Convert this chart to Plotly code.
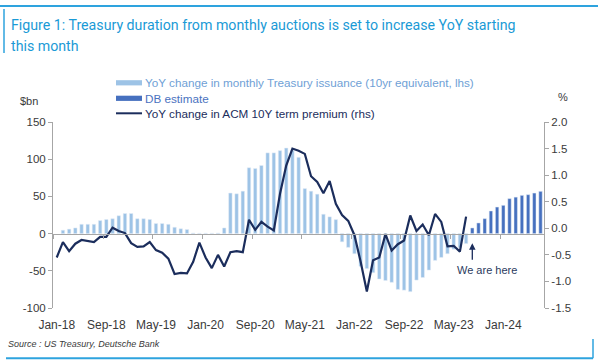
import pandas as pd
import plotly.graph_objects as go

# ---------------- data ----------------
months = list(pd.date_range("2018-01-01", periods=79, freq="MS").strftime("%b-%y"))

# YoY change in monthly Treasury issuance (10yr equivalent, $bn) - Feb-18 .. Jul-23
issuance = [None,
            4.5, 6, 7.6, 12.5, 12.5, 12.5, 17.5, 19, 20, 24, 27, 27,
            20, 20, 19, 13.5, 13.5, 12.5, 8.5, 6.5, 5.5, 0.8, 0.5, 0.5,
            0.5, 0.8, 7.6, 54.5, 53.5, 57, 88.5, 87.5, 91.5, 108.5, 108.5, 111.5,
            115, 112, 102.5, 60.5, 57, 53, 26, 22.5, 18.8, -11, -18.5, -27,
            -44, -47, -52.5, -61, -63, -65.5, -75, -76, -78, -62.5, -59, -49,
            -36, -32, -27, -21, -19, -13.4]
# DB estimate ($bn) - Aug-23 .. Jul-24
db_estimate = [7.6, 14.3, 20.1, 30.4, 35.7, 38, 47, 49, 51.4, 52.3, 54.5, 56.8]
# YoY change in ACM 10Y term premium (%) - Jan-18 .. Jul-23
term_premium = [-0.55, -0.26, -0.43, -0.29, -0.22, -0.24, -0.26, -0.16, -0.16, 0.01, -0.05, -0.09,
                -0.28, -0.35, -0.34, -0.26, -0.41, -0.46, -0.57, -0.86, -0.84, -0.85, -0.63, -0.27,
                -0.55, -0.75, -0.50, -0.72, -0.45, -0.43, -0.45, 0.16, -0.03, 0.12, 0.03, -0.04,
                0.65, 1.18, 1.50, 1.46, 1.40, 0.98, 0.87, 0.66, 0.89, 0.46, 0.25, 0.14,
                -0.13, -0.63, -1.19, -0.60, -0.55, -0.11, -0.42, -0.30, -0.23, 0.24, -0.05, 0.07,
                -0.13, 0.27, 0.12, -0.34, -0.33, -0.44, 0.22]

left_ticks = [-100, -50, 0, 50, 100, 150]
left_ticktext = ["-100", "-50", "0", "50", "100", "150"]
right_ticks = [-1.5, -1.0, -0.5, 0.0, 0.5, 1.0, 1.5, 2.0]
right_ticktext = ["-1.5", "-1.0", "-0.5", "0.0", "0.5", "1.0", "1.5", "2.0"]

n_hist = len(issuance)
light_y = issuance + [None] * (len(months) - n_hist)
dark_y = [None] * (len(months) - len(db_estimate)) + db_estimate
line_y = term_premium + [None] * (len(months) - len(term_premium))

# ---------------- style ----------------
W, H = 598, 364
L, R, T, B = 53, 54, 122, 56
PW, PH = W - L - R, H - T - B

def px(x):
    return (x - L) / PW

def py(y):
    return (H - B - y) / PH

LIGHT = "#9dc3e6"
DARK = "#4670bf"
NAVY = "#1b2d5c"
FRAME = "#2ea3de"
AXIS = "#a6a6a6"
TXT = "#3a3a3a"
FONT = "Liberation Sans, Arial, sans-serif"

fig = go.Figure()
fig.add_trace(go.Bar(x=months, y=light_y, marker_color=LIGHT, width=0.55,
                     name="YoY change in monthly Treasury issuance (10yr equivalent, lhs)"))
fig.add_trace(go.Bar(x=months, y=dark_y, marker_color=DARK, width=0.55, name="DB estimate"))
fig.add_trace(go.Scatter(x=months, y=line_y, mode="lines", xaxis="x2", yaxis="y2",
                         line=dict(color=NAVY, width=2.2),
                         name="YoY change in ACM 10Y term premium (rhs)"))

xr = [-0.6, 78.56]
fig.update_layout(
    width=W, height=H, margin=dict(l=L, r=R, t=T, b=B, pad=0),
    paper_bgcolor="white", plot_bgcolor="white",
    barmode="overlay", showlegend=False,
    font=dict(family=FONT, size=11.5, color=TXT),
    xaxis=dict(type="category", range=xr, showline=False, ticks="", showgrid=False,
               tickmode="linear", tick0=0, dtick=8, ticklabelstandoff=8,
               tickfont=dict(size=12, color=TXT)),
    xaxis2=dict(type="category", range=xr, overlaying="x", matches="x", anchor="free",
                position=0.4, side="bottom", showline=True, linecolor=AXIS, linewidth=1,
                ticks="outside", ticklen=4, tickcolor=AXIS, tickson="boundaries",
                tickmode="linear", tick0=0, dtick=8, showticklabels=False, showgrid=False),
    yaxis=dict(range=[-100, 150], tickvals=left_ticks, ticktext=left_ticktext,
               showline=True, linecolor=AXIS, ticks="outside", ticklen=4, tickcolor=AXIS,
               showgrid=False, zeroline=False, tickfont=dict(size=11.5, color=TXT)),
    yaxis2=dict(range=[-1.5, 2.0], tickvals=right_ticks, ticktext=right_ticktext,
                overlaying="y", side="right", anchor="x",
                showline=True, linecolor=AXIS, ticks="outside", ticklen=4, tickcolor=AXIS,
                showgrid=False, zeroline=False, tickfont=dict(size=11.5, color=TXT)),
)

ann = []
def text(x, y, s, size, color, xanchor="left", family=FONT):
    ann.append(dict(xref="paper", yref="paper", x=px(x), y=py(y), text=s, showarrow=False,
                    xanchor=xanchor, yanchor="middle",
                    font=dict(size=size, color=color, family=family)))

# title
text(9, 25, "Figure 1: Treasury duration from monthly auctions is set to increase YoY starting",
     14.2, "#1a9ad6", family="Roboto, sans-serif")
text(9, 46, "this month", 14.2, "#1a9ad6", family="Roboto, sans-serif")
# legend
text(143, 82.7, "YoY change in monthly Treasury issuance (10yr equivalent, lhs)", 11.7, "#6f9fd6")
text(143, 98.3, "DB estimate", 11.7, "#4a72c0")
text(143, 113.3, "YoY change in ACM 10Y term premium (rhs)", 11.7, NAVY)
# axis titles
text(18, 100.7, "$bn", 11, TXT)
text(563, 96.7, "%", 11, TXT, xanchor="center")
# note
text(486.5, 270, "We are here", 11, "#2a3a5e", xanchor="center")
# source
text(6, 344, "<i>Source : US Treasury, Deutsche Bank</i>", 9, TXT)

# arrow
ann.append(dict(xref="x", yref="y", x="Aug-23", y=-13, ax=0, ay=18, text="",
                showarrow=True, arrowhead=2, arrowsize=1, arrowwidth=1.3, arrowcolor=NAVY))
fig.update_layout(annotations=ann)

shapes = []
def seg(x0, y0, x1, y1, color, w):
    shapes.append(dict(type="line", xref="paper", yref="paper", x0=px(x0), y0=py(y0),
                       x1=px(x1), y1=py(y1), line=dict(color=color, width=w)))

def rect(x0, y0, x1, y1, color):
    shapes.append(dict(type="rect", xref="paper", yref="paper", x0=px(x0), y0=py(y0),
                       x1=px(x1), y1=py(y1), fillcolor=color, line=dict(width=0)))

# frame
seg(0, 6, 598, 6, FRAME, 2)
seg(4, 9, 4, 53, FRAME, 1.5)
seg(6, 358.3, 593, 358.3, FRAME, 2)
seg(593, 339, 593, 358.3, FRAME, 1.5)
# legend symbols
rect(116, 80.2, 142, 85.4, LIGHT)
rect(116, 95.7, 142, 100.9, DARK)
seg(116, 113.3, 142, 113.3, NAVY, 2)

fig.update_layout(shapes=shapes)
fig.write_html("out.html", config={"displayModeBar": False},
               post_script="document.body.style.margin='0';")
